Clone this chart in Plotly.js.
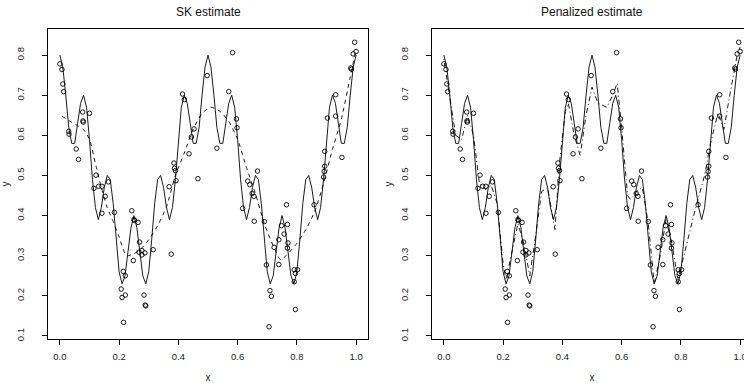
<!DOCTYPE html>
<html>
<head>
<meta charset="utf-8">
<script src="https://cdn.plot.ly/plotly-3.0.1.min.js"></script>
<style>
html, body { margin: 0; padding: 0; overflow: hidden; background: #fff; }
#chart { width: 768px; height: 385px; }
</style>
</head>
<body>
<div id="chart"></div>
<script>
// observed data points
const obsX = [0.000,0.007,0.010,0.013,0.030,0.031,0.055,0.063,0.077,0.078,0.079,0.100,0.115,0.122,0.131,0.142,0.142,0.153,0.164,0.184,
  0.207,0.210,0.214,0.215,0.221,0.221,0.243,0.248,0.250,0.252,0.264,0.267,0.269,0.277,0.277,0.284,0.287,0.288,0.290,0.315,
  0.369,0.376,0.385,0.387,0.390,0.392,0.414,0.420,0.436,0.444,0.453,0.466,0.497,0.530,0.570,0.583,0.596,0.598,
  0.617,0.634,0.641,0.649,0.655,0.656,0.667,0.690,0.697,0.706,0.709,0.714,0.723,0.739,0.739,0.748,0.757,0.765,0.768,0.768,0.770,
  0.791,0.791,0.795,0.795,0.802,0.858,0.890,0.892,0.894,0.894,0.903,0.931,0.931,0.952,0.982,0.984,0.990,0.995,1.000];
const obsY = [0.778,0.764,0.728,0.709,0.610,0.603,0.566,0.540,0.658,0.636,0.633,0.655,0.468,0.501,0.473,0.473,0.406,0.448,0.484,0.408,
  0.217,0.196,0.261,0.134,0.250,0.202,0.412,0.288,0.390,0.388,0.383,0.309,0.334,0.313,0.302,0.202,0.307,0.177,0.175,0.315,
  0.472,0.304,0.531,0.518,0.512,0.487,0.703,0.689,0.554,0.596,0.616,0.492,0.749,0.568,0.709,0.806,0.641,0.619,
  0.418,0.486,0.477,0.455,0.448,0.386,0.511,0.385,0.277,0.123,0.213,0.199,0.321,0.278,0.340,0.375,0.354,0.427,0.378,0.319,0.332,
  0.265,0.235,0.256,0.166,0.265,0.427,0.496,0.510,0.523,0.560,0.643,0.701,0.648,0.545,0.768,0.765,0.803,0.832,0.809];

// true regression curve (solid)
const trueX = [0.00,0.01,0.02,0.03,0.04,0.05,0.06,0.07,0.08,0.09,0.10,0.11,0.12,0.13,0.14,0.15,0.16,0.17,0.18,0.19,
  0.20,0.21,0.22,0.23,0.24,0.25,0.26,0.27,0.28,0.29,0.30,0.31,0.32,0.33,0.34,0.35,0.36,0.37,0.38,0.39,
  0.40,0.41,0.42,0.43,0.44,0.45,0.46,0.47,0.48,0.49,0.50,0.51,0.52,0.53,0.54,0.55,0.56,0.57,0.58,0.59,
  0.60,0.61,0.62,0.63,0.64,0.65,0.66,0.67,0.68,0.69,0.70,0.71,0.72,0.73,0.74,0.75,0.76,0.77,0.78,0.79,
  0.80,0.81,0.82,0.83,0.84,0.85,0.86,0.87,0.88,0.89,0.90,0.91,0.92,0.93,0.94,0.95,0.96,0.97,0.98,0.99,1.00];
const trueY = [0.80,0.77,0.70,0.62,0.58,0.58,0.63,0.68,0.70,0.67,0.59,0.49,0.42,0.39,0.42,0.47,0.50,0.49,0.43,0.34,
  0.26,0.23,0.25,0.31,0.37,0.40,0.37,0.31,0.25,0.23,0.26,0.34,0.43,0.49,0.50,0.47,0.42,0.39,0.42,0.49,
  0.59,0.67,0.70,0.68,0.63,0.58,0.58,0.62,0.70,0.77,0.80,0.77,0.70,0.62,0.58,0.58,0.63,0.68,0.70,0.67,
  0.59,0.49,0.42,0.39,0.42,0.47,0.50,0.49,0.43,0.34,0.26,0.23,0.25,0.31,0.37,0.40,0.37,0.31,0.25,0.23,
  0.26,0.34,0.43,0.49,0.50,0.47,0.42,0.39,0.42,0.49,0.59,0.67,0.70,0.68,0.63,0.58,0.58,0.62,0.70,0.77,0.80];

// SK estimate (dashed, left panel)
const skX = [0.007,0.03,0.06,0.08,0.10,0.12,0.14,0.16,0.18,0.20,0.225,0.25,0.27,0.30,0.33,0.36,0.39,0.42,0.45,0.48,
  0.51,0.54,0.57,0.60,0.63,0.66,0.69,0.72,0.745,0.77,0.80,0.83,0.86,0.89,0.92,0.95,0.98,1.00];
const skY = [0.648,0.637,0.624,0.614,0.590,0.530,0.470,0.420,0.385,0.347,0.300,0.305,0.314,0.340,0.375,0.422,0.500,0.556,0.615,0.655,
  0.670,0.660,0.635,0.590,0.520,0.455,0.380,0.325,0.290,0.305,0.331,0.365,0.410,0.480,0.565,0.640,0.745,0.815];

// Penalized estimate (dash-dot, right panel)
const penX = [0.00,0.02,0.04,0.06,0.08,0.10,0.12,0.14,0.16,0.18,0.20,0.21,0.23,0.25,0.27,0.29,0.31,0.33,0.35,0.37,0.375,
  0.39,0.41,0.42,0.44,0.46,0.48,0.50,0.52,0.55,0.57,0.585,0.60,0.62,0.63,0.65,0.67,0.69,0.71,0.73,0.75,0.77,0.79,
  0.81,0.85,0.88,0.90,0.925,0.945,0.965,0.99,1.00];
const penY = [0.79,0.70,0.60,0.59,0.65,0.60,0.48,0.465,0.475,0.43,0.28,0.24,0.31,0.38,0.33,0.25,0.35,0.46,0.47,0.38,0.365,
  0.53,0.66,0.68,0.60,0.55,0.65,0.72,0.68,0.67,0.70,0.73,0.62,0.45,0.44,0.46,0.47,0.38,0.23,0.30,0.39,0.33,0.24,
  0.30,0.42,0.50,0.58,0.655,0.615,0.70,0.80,0.82];

const titles = ["SK estimate", "Penalized estimate"];
const xTicks = [0.0,0.2,0.4,0.6,0.8,1.0];
const yTicks = [0.1,0.2,0.3,0.4,0.5,0.6,0.7,0.8];

const W = 768, H = 385;
const fontFam = "Liberation Sans, Arial, sans-serif";

function pts(xa, ya) {
  return {x: obsX, y: obsY, xaxis: xa, yaxis: ya, type: 'scatter', mode: 'markers',
    marker: {symbol: 'circle-open', size: 4.5, color: '#000', line: {width: 0.9, color: '#000'}},
    hoverinfo: 'x+y', showlegend: false};
}
function truth(xa, ya) {
  return {x: trueX, y: trueY, xaxis: xa, yaxis: ya, type: 'scatter', mode: 'lines',
    line: {color: '#000', width: 0.9}, showlegend: false};
}

const traces = [
  pts('x', 'y'), truth('x', 'y'),
  {x: skX, y: skY, xaxis: 'x', yaxis: 'y', type: 'scatter', mode: 'lines',
    line: {color: '#000', width: 0.9, dash: '4px,4px', shape: 'spline', smoothing: 0.6}, showlegend: false},
  pts('x2', 'y2'), truth('x2', 'y2'),
  {x: penX, y: penY, xaxis: 'x2', yaxis: 'y2', type: 'scatter', mode: 'lines',
    line: {color: '#000', width: 0.9, dash: '1px,3px,5px,3px'}, showlegend: false}
];

function xAxis(dom, anchor) {
  return {domain: dom, anchor: anchor, range: [-0.04, 1.04], showgrid: false, zeroline: false,
    showline: true, mirror: true, linecolor: '#000', linewidth: 1,
    ticks: 'outside', ticklen: 5, tickcolor: '#000', tickwidth: 1,
    tickvals: xTicks, tickformat: '.1f', ticklabelstandoff: 4,
    tickfont: {family: fontFam, size: 9.5, color: '#222'},
    title: {text: 'x', font: {family: fontFam, size: 10, color: '#222'}, standoff: 12}};
}
function yAxis(dom, anchor) {
  return {domain: dom, anchor: anchor, range: [0.0925, 0.865], showgrid: false, zeroline: false,
    showline: true, mirror: true, linecolor: '#000', linewidth: 1,
    ticks: 'outside', ticklen: 5, tickcolor: '#000', tickwidth: 1,
    tickvals: yTicks, tickformat: '.1f', tickangle: -90, ticklabelstandoff: 14,
    tickfont: {family: fontFam, size: 9.5, color: '#222'},
    title: {text: 'y', font: {family: fontFam, size: 10, color: '#222'}, standoff: 4}};
}

const yDom = [1 - 339 / H, 1 - 29 / H];
const layout = {
  width: W, height: H,
  margin: {l: 0, r: 0, t: 0, b: 0},
  paper_bgcolor: '#fff', plot_bgcolor: '#fff',
  font: {family: fontFam, color: '#000'},
  showlegend: false,
  xaxis: xAxis([48 / W, 368 / W], 'y'),
  yaxis: yAxis(yDom, 'x'),
  xaxis2: xAxis([432 / W, 752 / W], 'y2'),
  yaxis2: yAxis(yDom, 'x2'),
  annotations: [
    {text: titles[0], xref: 'paper', yref: 'paper', x: 208 / W, y: 1 - 12 / H, xanchor: 'center', yanchor: 'middle',
      showarrow: false, font: {family: fontFam, size: 12, color: '#111'}},
    {text: titles[1], xref: 'paper', yref: 'paper', x: 592 / W, y: 1 - 12 / H, xanchor: 'center', yanchor: 'middle',
      showarrow: false, font: {family: fontFam, size: 12, color: '#111'}}
  ]
};

Plotly.newPlot('chart', traces, layout, {displayModeBar: false, staticPlot: true});
</script>
</body>
</html>
